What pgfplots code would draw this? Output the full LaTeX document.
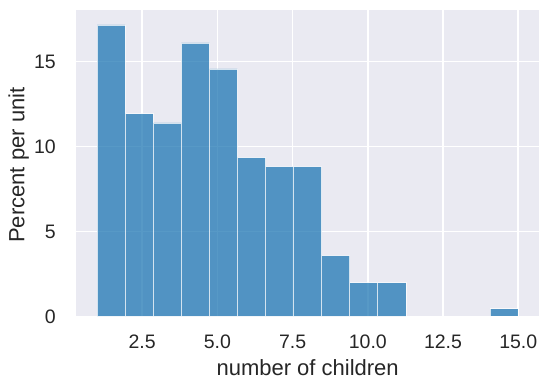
\documentclass[border=0pt]{standalone}
\usepackage{fontspec}
\setmainfont{Liberation Sans}
\usepackage{pgfplots}
\pgfplotsset{compat=1.18}
\definecolor{bg}{HTML}{EAEAF2}
\definecolor{barblue}{HTML}{1F77B4}
\definecolor{txt}{HTML}{262626}
\begin{document}
\begin{tikzpicture}
\begin{axis}[
  name=ax,
  scale only axis,
  width=463.3pt, height=306.5pt,
  xmin=0.3, xmax=15.7, ymin=0, ymax=18.03,
  axis background/.style={fill=bg},
  axis line style={draw=none},
  major tick length=0pt,
  grid=major,
  major grid style={white, line width=1.5pt},
  xtick={2.5,5,7.5,10,12.5,15},
  ytick={0,5,10,15},
  xticklabel={\pgfmathprintnumber[fixed,fixed zerofill,precision=1]{\tick}},
  /pgf/number format/assume math mode=true,
  tick label style={font=\fontsize{19.5}{23}\selectfont, text=txt},
  xticklabel style={anchor=north, inner sep=0pt, yshift=-18.5pt},
  yticklabel style={anchor=east, inner sep=0pt, xshift=-20pt},
  xlabel={number of children},
  ylabel={Percent per unit},
  every axis x label/.style={at={(axis description cs:0.5,-0.1909)}, anchor=base, font=\fontsize{22}{26}\selectfont, text=txt},
  every axis y label/.style={at={(axis description cs:-0.1112,0.494)}, rotate=90, anchor=base, font=\fontsize{22}{26}\selectfont, text=txt},
]
\addplot[ybar interval, fill=barblue, draw=white, line width=0.75pt, opacity=0.75] coordinates {
  (1,17.15) (1.9333,11.92) (2.8667,11.39) (3.8,16.09) (4.7333,14.56)
  (5.6667,9.34) (6.6,8.81) (7.5333,8.81) (8.4667,3.58) (9.4,1.98)
  (10.3333,1.98) (11.2667,1.98)
};
\addplot[ybar interval, fill=barblue, draw=white, line width=0.75pt, opacity=0.75] coordinates {
  (14.0667,0.45) (15,0.45)
};
\end{axis}
\pgfresetboundingbox
\path ([shift={(-76pt,-71.5pt)}]ax.south west) rectangle ([shift={(9.7pt,10pt)}]ax.north east);
\end{tikzpicture}
\end{document}
